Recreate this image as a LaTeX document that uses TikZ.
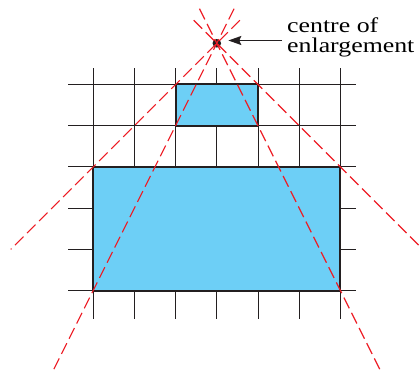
\documentclass[tikz,border=0pt]{standalone}
\usepackage{fontspec}
\setmainfont{Liberation Serif}
\usetikzlibrary{calc,arrows.meta}
\definecolor{ink}{HTML}{231F20}
\definecolor{shapefill}{HTML}{6DCFF6}
\definecolor{rayred}{HTML}{ED1C24}
\tikzset{
  gridline/.style={line width=0.9pt, draw=ink},
  shapebox/.style={draw=ink, line width=2pt, fill=shapefill, inner sep=0pt, outer sep=0pt},
  ray/.style={draw=rayred, line width=1.2pt, dash pattern=on 12pt off 5pt},
  label/.style={anchor=base west, inner sep=0pt, font=\fontsize{21}{24}\selectfont},
  arr/.style={draw=ink, line width=1.6pt, -{Stealth[length=13pt,width=9pt,inset=2pt]}}
}
\begin{document}
\begin{tikzpicture}[x=1pt,y=-1pt]
\useasboundingbox (0,0) rectangle (420,374);
% grid
\foreach \i in {0,...,6}{
  \draw[gridline] (93.2+\i*41.2,68.3) -- (93.2+\i*41.2,319.3);
}
\foreach \j in {0,...,5}{
  \draw[gridline] (68,84.5+\j*41.2) -- (356,84.5+\j*41.2);
}
% shapes
\node[shapebox, minimum width=82.4pt, minimum height=41.2pt] (small) at (216.8,105.1) {};
\node[shapebox, minimum width=247.2pt, minimum height=123.6pt] (large) at (216.8,228.7) {};
% centre
\node[circle, fill=ink, inner sep=0pt, minimum size=8.6pt] (cen) at (216.8,43.3) {};
% rays
\draw[ray] ($(cen.center)!-0.56!(small.north west)$) -- ($(cen.center)!5!(small.north west)$);
\draw[ray] ($(cen.center)!-0.56!(small.north east)$) -- ($(cen.center)!5!(small.north east)$);
\draw[ray] ($(cen.center)!-0.42!(small.south west)$) -- ($(cen.center)!4!(small.south west)$);
\draw[ray] ($(cen.center)!-0.42!(small.south east)$) -- ($(cen.center)!4!(small.south east)$);
% label
\node[label] (lab1) at (287,32.5) {\scalebox{1.23}[1]{centre of}};
\node[label] (lab2) at (287,52.2) {\scalebox{1.23}[1]{enlargement}};
\coordinate (astart) at ($(lab1.base west)+(-5,8)$);
\draw[arr, shorten >=7pt] (astart) -- (cen.east |- astart);
\end{tikzpicture}
\end{document}
